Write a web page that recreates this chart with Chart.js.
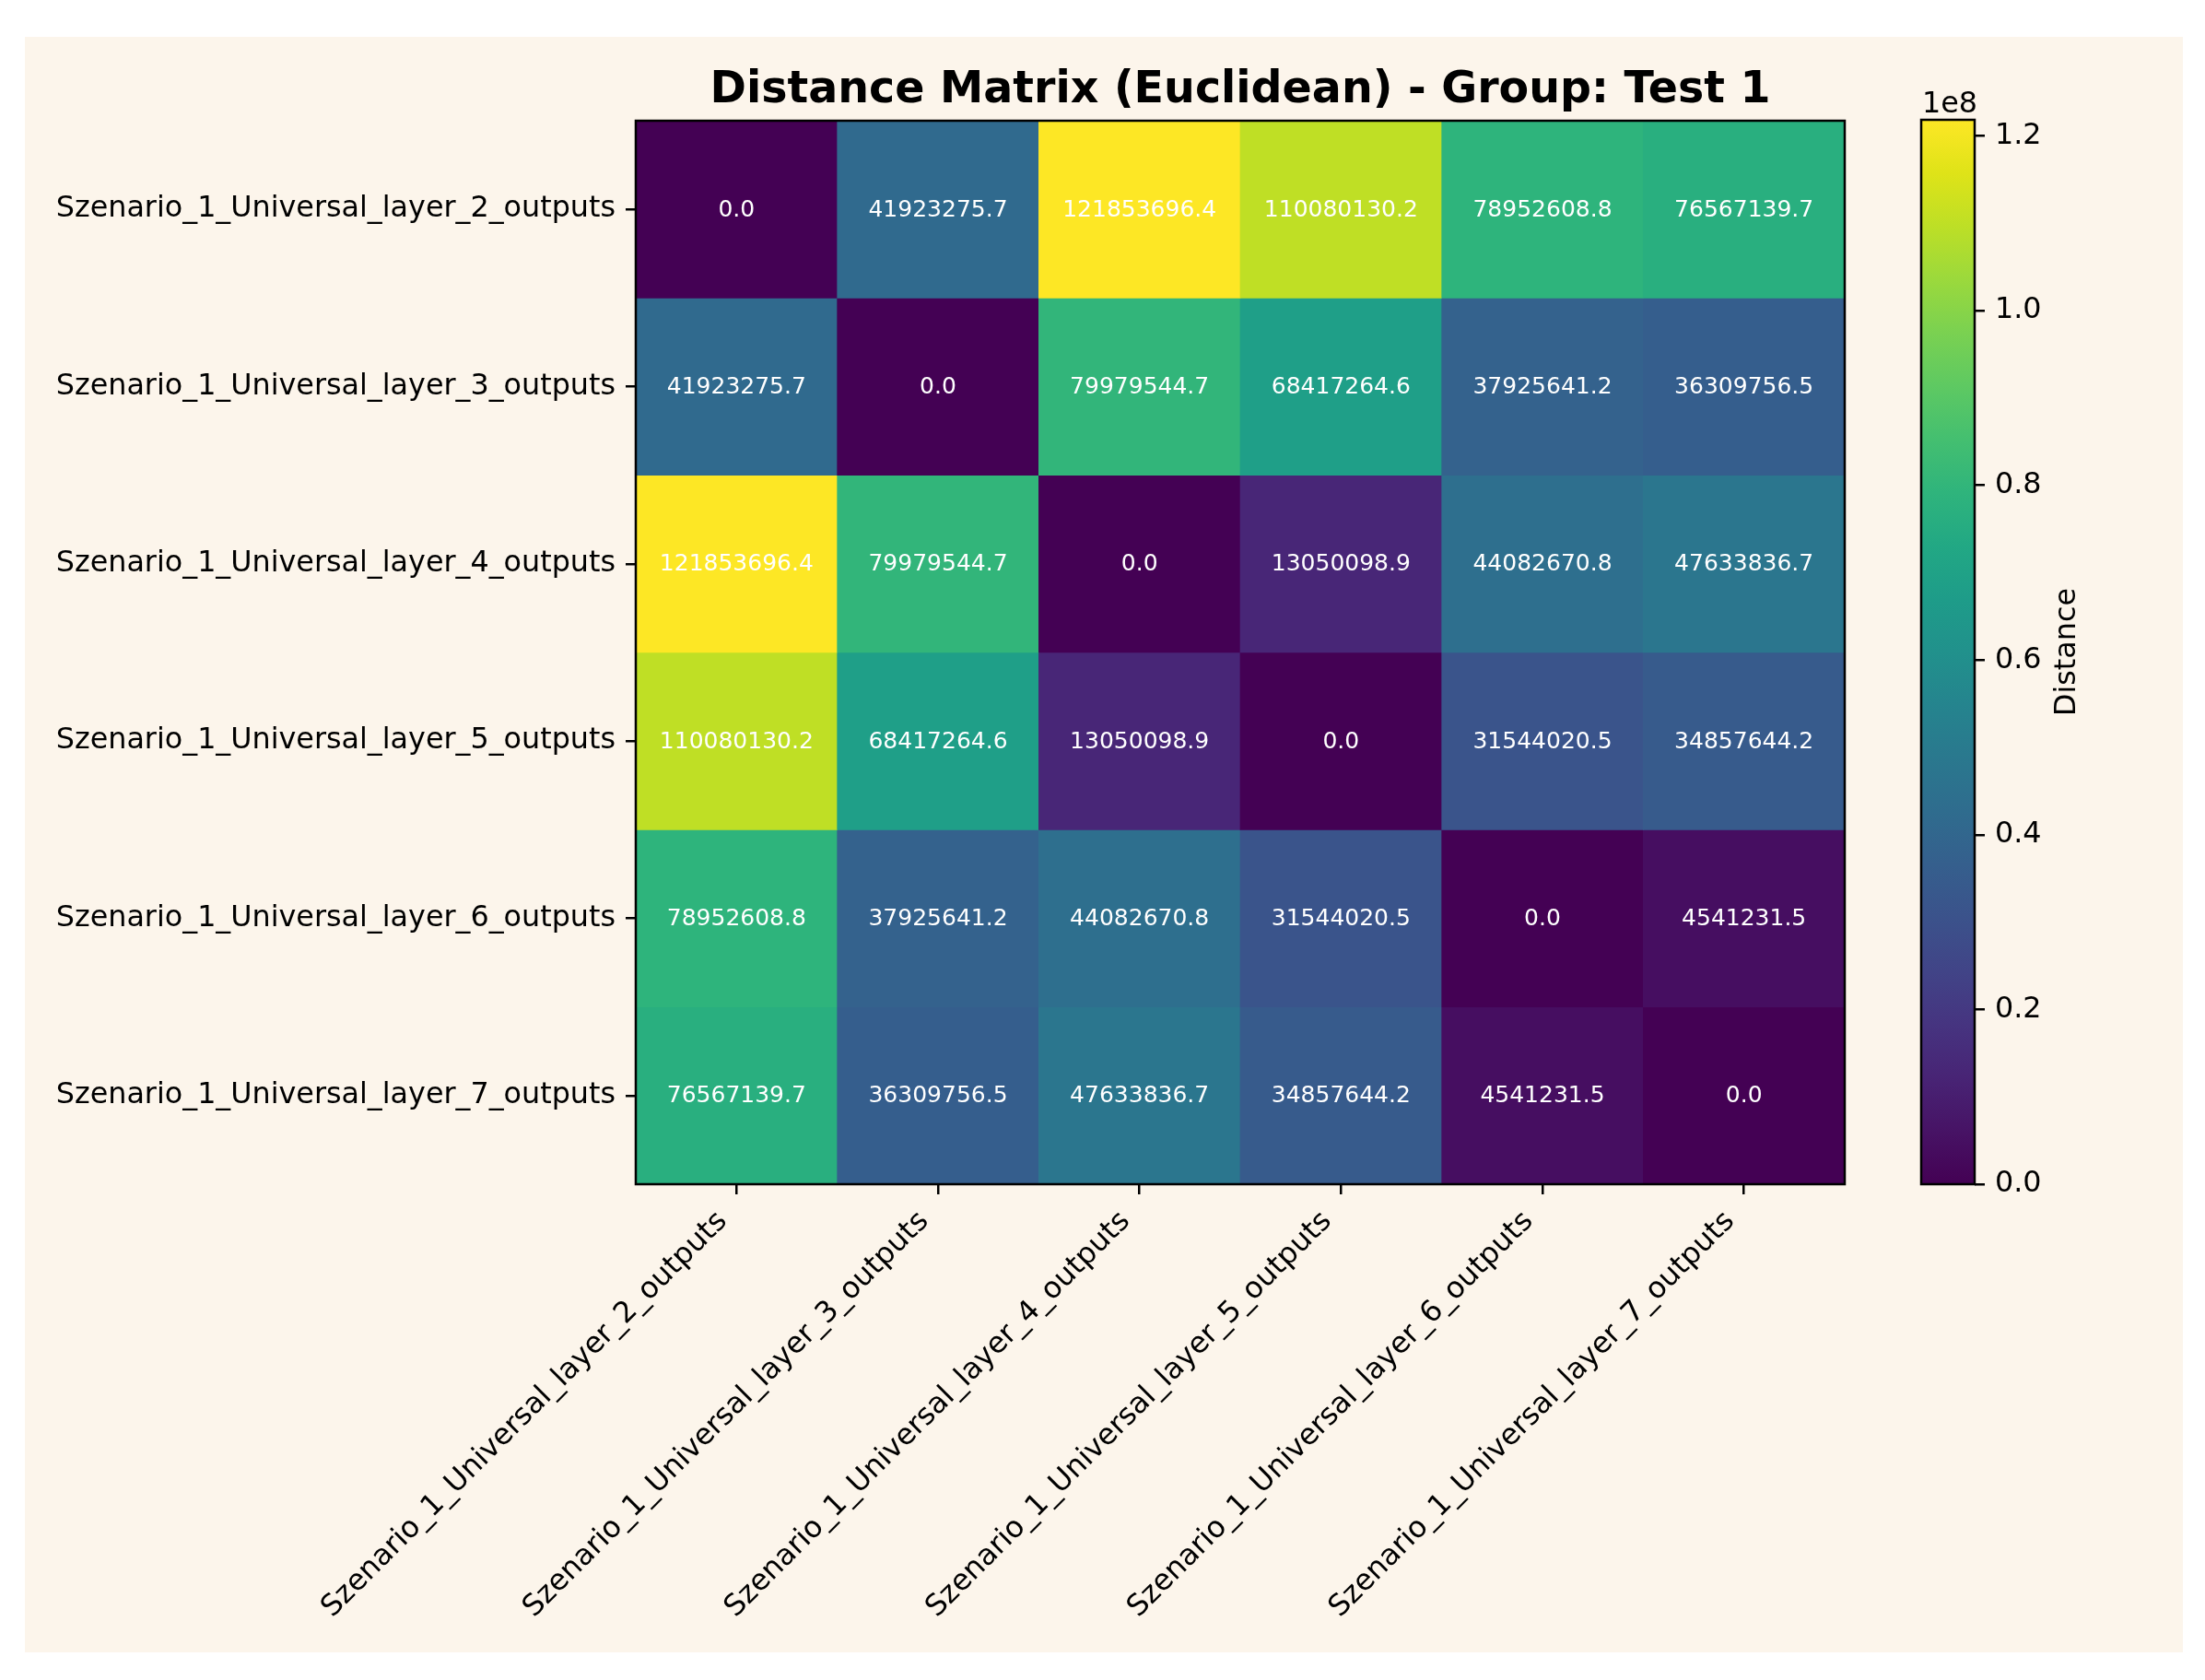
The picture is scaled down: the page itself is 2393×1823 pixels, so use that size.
<!DOCTYPE html>
<html>
<head>
<meta charset="utf-8">
<script src="https://cdn.jsdelivr.net/npm/chart.js@4/dist/chart.umd.min.js"></script>
<style>
  html, body { margin: 0; padding: 0; background: #ffffff; }
  body { width: 2393px; height: 1823px; position: relative; overflow: hidden; }
  #bg { position: absolute; left: 27px; top: 40px; width: 2342px; height: 1753px; background: #fcf5eb; }
  #main { position: absolute; left: 0; top: 0; }
  #cbar { position: absolute; left: 2000px; top: 0; }
</style>
</head>
<body>
<div id="bg"></div>
<canvas id="main" width="2393" height="1823"></canvas>
<canvas id="cbar" width="393" height="1823"></canvas>
<script>
// ---------------- DATA ----------------
const layerLabels = [
  'Szenario_1_Universal_layer_2_outputs',
  'Szenario_1_Universal_layer_3_outputs',
  'Szenario_1_Universal_layer_4_outputs',
  'Szenario_1_Universal_layer_5_outputs',
  'Szenario_1_Universal_layer_6_outputs',
  'Szenario_1_Universal_layer_7_outputs'
];
const layer2Dist = [0.0, 41923275.7, 121853696.4, 110080130.2, 78952608.8, 76567139.7];
const layer3Dist = [41923275.7, 0.0, 79979544.7, 68417264.6, 37925641.2, 36309756.5];
const layer4Dist = [121853696.4, 79979544.7, 0.0, 13050098.9, 44082670.8, 47633836.7];
const layer5Dist = [110080130.2, 68417264.6, 13050098.9, 0.0, 31544020.5, 34857644.2];
const layer6Dist = [78952608.8, 37925641.2, 44082670.8, 31544020.5, 0.0, 4541231.5];
const layer7Dist = [76567139.7, 36309756.5, 47633836.7, 34857644.2, 4541231.5, 0.0];
const distanceRows = [layer2Dist, layer3Dist, layer4Dist, layer5Dist, layer6Dist, layer7Dist];
const colorbarTicks = [0, 20000000, 40000000, 60000000, 80000000, 100000000, 120000000];
const chartTitle = 'Distance Matrix (Euclidean) - Group: Test 1';
const colorbarLabel = 'Distance';
const offsetLabel = '1e8';

// ---------------- COLORMAP (viridis) ----------------
const viridis = ['#440154','#471365','#482475','#463480','#414487','#3b528b','#355f8d','#2f6c8e',
  '#2a788e','#25848e','#21918c','#1e9c89','#22a884','#2fb47c','#44bf70','#5ec962','#7ad151',
  '#9bd93c','#bddf26','#dfe318','#fde725'];
function hexToRgb(h) { return [parseInt(h.slice(1,3),16), parseInt(h.slice(3,5),16), parseInt(h.slice(5,7),16)]; }
const viridisRgb = viridis.map(hexToRgb);
function cmap(t) {
  t = Math.max(0, Math.min(1, t));
  const p = t * (viridisRgb.length - 1);
  const i = Math.min(Math.floor(p), viridisRgb.length - 2);
  const f = p - i;
  const a = viridisRgb[i], b = viridisRgb[i + 1];
  return 'rgb(' + [0,1,2].map(k => Math.round(a[k] + (b[k] - a[k]) * f)).join(',') + ')';
}
const vmin = 0;
const vmax = Math.max(...distanceRows.flat());

Chart.defaults.font.family = "'DejaVu Sans', 'Liberation Sans', sans-serif";
Chart.defaults.color = '#000000';
Chart.defaults.animation = false;

const FS = 31.8;

// ---------------- MAIN HEATMAP ----------------
const datasets = distanceRows.map((row, r) => ({
  label: layerLabels[r],
  data: row.map(() => [r - 0.5, r + 0.5]),
  backgroundColor: row.map(v => cmap((v - vmin) / (vmax - vmin))),
  borderWidth: 0,
  barPercentage: 1.0,
  categoryPercentage: 1.0,
  grouped: false,
  values: row
}));

const cellTextPlugin = {
  id: 'cellText',
  afterDatasetsDraw(chart) {
    const ctx = chart.ctx;
    ctx.save();
    ctx.font = "25px 'DejaVu Sans'";
    ctx.fillStyle = '#ffffff';
    ctx.textAlign = 'center';
    ctx.textBaseline = 'middle';
    chart.data.datasets.forEach((ds, di) => {
      const meta = chart.getDatasetMeta(di);
      meta.data.forEach((el, i) => {
        const p = el.getProps(['x', 'y', 'base'], true);
        ctx.fillText(ds.values[i].toFixed(1), p.x, (p.y + p.base) / 2 + 1);
      });
    });
    // spines
    const a = chart.chartArea;
    ctx.strokeStyle = '#000000';
    ctx.lineWidth = 2.5;
    ctx.strokeRect(a.left, a.top, a.right - a.left, a.bottom - a.top);
    ctx.restore();
  }
};

new Chart(document.getElementById('main'), {
  type: 'bar',
  data: { labels: layerLabels, datasets },
  options: {
    responsive: false,
    devicePixelRatio: 1,
    layout: { padding: { left: 20, right: 391, top: 0, bottom: 0 } },
    plugins: {
      legend: { display: false },
      tooltip: { enabled: false },
      title: {
        display: true,
        fullSize: false,
        text: chartTitle,
        color: '#000000',
        font: { size: 47.5, weight: 'bold' },
        padding: { top: 70, bottom: 4 }
      }
    },
    scales: {
      x: {
        type: 'category',
        offset: true,
        grid: { display: true, drawOnChartArea: false, drawTicks: true, tickLength: 11, lineWidth: 2.5, color: '#000000', offset: false },
        border: { display: false },
        ticks: { color: '#000000', font: { size: FS }, maxRotation: 45, minRotation: 45, padding: 11, labelOffset: -15, autoSkip: false },
        afterFit(scale) { scale.height = 538; }
      },
      y: {
        type: 'linear',
        reverse: true,
        min: -0.5,
        max: 5.5,
        grid: { display: true, drawOnChartArea: false, drawTicks: true, tickLength: 11, lineWidth: 2.5, color: '#000000' },
        border: { display: false },
        afterBuildTicks(scale) { scale.ticks = layerLabels.map((_, i) => ({ value: i })); },
        ticks: {
          color: '#000000',
          font: { size: FS },
          padding: 11,
          callback: (v) => layerLabels[v] || ''
        },
        afterFit(scale) { scale.width = 670; }
      }
    }
  },
  plugins: [cellTextPlugin]
});

// ---------------- COLORBAR ----------------
const cbarPlugin = {
  id: 'cbarDeco',
  afterDatasetsDraw(chart) {
    const ctx = chart.ctx;
    const a = chart.chartArea;
    ctx.save();
    ctx.strokeStyle = '#000000';
    ctx.lineWidth = 2.5;
    ctx.strokeRect(a.left, a.top, a.right - a.left, a.bottom - a.top);
    ctx.fillStyle = '#000000';
    ctx.font = FS + "px 'DejaVu Sans'";
    ctx.textAlign = 'left';
    ctx.textBaseline = 'alphabetic';
    ctx.fillText(offsetLabel, a.left + 1, a.top - 8);
    ctx.translate(244, (a.top + a.bottom) / 2);
    ctx.rotate(-Math.PI / 2);
    ctx.textAlign = 'center';
    ctx.textBaseline = 'middle';
    ctx.fillText(colorbarLabel, 0, 0);
    ctx.restore();
  }
};

new Chart(document.getElementById('cbar'), {
  type: 'bar',
  data: {
    labels: [colorbarLabel],
    datasets: [{
      data: [[vmin, vmax]],
      borderWidth: 0,
      barPercentage: 1.0,
      categoryPercentage: 1.0,
      backgroundColor(context) {
        const ch = context.chart;
        const area = ch.chartArea;
        if (!area) return viridis[0];
        const g = ch.ctx.createLinearGradient(0, area.bottom, 0, area.top);
        viridis.forEach((c, i) => g.addColorStop(i / (viridis.length - 1), c));
        return g;
      }
    }]
  },
  options: {
    responsive: false,
    devicePixelRatio: 1,
    layout: { padding: { left: 85, right: 0, top: 130, bottom: 538 } },
    plugins: { legend: { display: false }, tooltip: { enabled: false }, title: { display: false } },
    scales: {
      x: { display: false },
      y: {
        position: 'right',
        min: vmin,
        max: vmax,
        grid: { display: true, drawOnChartArea: false, drawTicks: true, tickLength: 11, lineWidth: 2.5, color: '#000000' },
        border: { display: false },
        afterBuildTicks(scale) { scale.ticks = colorbarTicks.map(v => ({ value: v })); },
        ticks: {
          color: '#000000',
          font: { size: FS },
          padding: 11,
          callback: (v) => (v / 1e8).toFixed(1)
        },
        afterFit(scale) { scale.width = 250; }
      }
    }
  },
  plugins: [cbarPlugin]
});
</script>
</body>
</html>
